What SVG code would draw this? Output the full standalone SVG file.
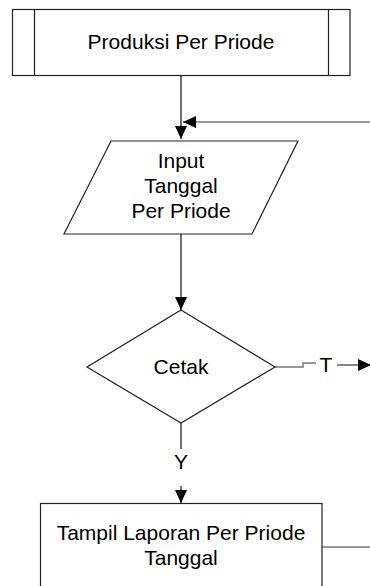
<svg xmlns="http://www.w3.org/2000/svg" width="370" height="586" viewBox="0 0 370 586">
<defs>
<style>
.s{fill:#fff;stroke:#222;stroke-width:1.2}
.c{fill:none;stroke:#111;stroke-width:1.2}
.g{fill:none;stroke:#777;stroke-width:1.5}
.t{font-family:"Liberation Sans",Arial,sans-serif;font-size:21px;fill:#000;text-anchor:middle}
</style>
<marker id="ah" viewBox="0 0 13 12" refX="13" refY="6" markerWidth="13" markerHeight="12" markerUnits="userSpaceOnUse" orient="auto">
<path d="M0 0 L13 6 L0 12 Z" fill="#000"/>
</marker>
</defs>
<rect width="370" height="586" fill="#fff"/>
<g id="connectors">
<path class="c" d="M181 75 V139" marker-end="url(#ah)"/>
<path class="g" d="M370 122 H183" marker-end="url(#ah)"/>
<path class="c" d="M181 234 V310" marker-end="url(#ah)"/>
<path class="g" d="M275 367 H303 V363 H316"/>
<path class="c" d="M337 365 H371" marker-end="url(#ah)"/>
<path class="c" d="M181 423 V449"/>
<path class="c" d="M181 486 V503" marker-end="url(#ah)"/>
<path class="g" d="M322 547 H370"/>
<text class="t" x="326" y="372">T</text>
<text class="t" x="181" y="469">Y</text>
</g>
<g id="node-produksi">
<rect class="s" x="12.5" y="9.5" width="337.5" height="66"/>
<path class="s" d="M34.5 9.5 V75.5 M328.5 9.5 V75.5"/>
<text class="t" x="181" y="49">Produksi Per Priode</text>
</g>
<g id="node-input">
<polygon class="s" points="111,141 298,141 252,234 64,234"/>
<text class="t" x="181" y="168">Input</text>
<text class="t" x="181" y="193">Tanggal</text>
<text class="t" x="181" y="218">Per Priode</text>
</g>
<g id="node-cetak">
<polygon class="s" points="181,310 275,367 181,423 87,367"/>
<text class="t" x="181" y="374">Cetak</text>
</g>
<g id="node-tampil">
<rect class="s" x="40.5" y="503.5" width="281.5" height="100"/>
<text class="t" x="181" y="540">Tampil Laporan Per Priode</text>
<text class="t" x="181" y="565">Tanggal</text>
</g>
</svg>
